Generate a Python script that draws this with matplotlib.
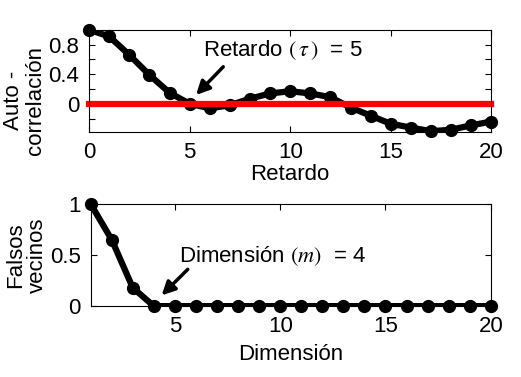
import numpy as np
import matplotlib.pyplot as plt

plt.rc('font', family='Liberation Sans', size=16)
plt.rc('mathtext', fontset='stix')
plt.rc('xtick', direction='in', top=True)
plt.rc('ytick', direction='in', right=True)

# autocorrelation vs lag
lag = np.arange(0, 21)
acf = [1.0, 0.91, 0.66, 0.39, 0.15, 0.0, -0.06, -0.02, 0.07, 0.14, 0.17,
       0.14, 0.09, -0.05, -0.16, -0.27, -0.32, -0.37, -0.35, -0.29, -0.24]
tau = 5

# false nearest neighbours vs embedding dimension
dim = np.arange(1, 21)
fnn = [1.0, 0.65, 0.18] + [0.0] * 17
m = 4

fig = plt.figure(figsize=(5.21, 3.77), dpi=100)
arrow = dict(arrowstyle='-|>', lw=2.5, color='k', mutation_scale=20,
             shrinkA=0, shrinkB=0)

# top panel
ax1 = fig.add_axes([0.171, 0.650, 0.772, 0.271])
ax1.plot(lag, acf, 'k-', lw=4.5)
ax1.plot(lag, acf, 'ko', ms=8.5, clip_on=False)
ax1.plot([lag[0], lag[-1]], [0, 0], 'r-', lw=4.5, clip_on=False)
ax1.set_xlim(0, 20)
ax1.set_ylim(-0.38, 1.0)
ax1.set_xticks([0, 5, 10, 15, 20])
ax1.set_yticks([-0.2, 0, 0.2, 0.4, 0.6, 0.8])
ax1.set_yticklabels(['', '0', '', '0.4', '', '0.8'])
ax1.set_xlabel('Retardo', labelpad=1)
ax1.text(-0.16, 0.31, 'Auto -\ncorrelación', transform=ax1.transAxes,
         rotation=90, ha='center', va='center', multialignment='center',
         linespacing=1.05)
ax1.text(5.67, 0.73, r'Retardo $(\,\tau\,)$  = 5', va='center', ha='left')
ax1.annotate('', xy=(5.32, 0.12), xytext=(6.67, 0.50), arrowprops=arrow)

# bottom panel
ax2 = fig.add_axes([0.174, 0.188, 0.768, 0.271])
ax2.plot(dim, fnn, 'k-', lw=4.5)
ax2.plot(dim, fnn, 'ko', ms=8.5, clip_on=False)
ax2.set_xlim(1, 20)
ax2.set_ylim(0, 1)
ax2.set_xticks([5, 10, 15, 20])
ax2.set_yticks([0, 0.5, 1])
ax2.set_yticklabels(['0', '0.5', '1'])
ax2.set_xlabel('Dimensión', labelpad=5)
ax2.text(-0.16, 0.5, 'Falsos\nvecinos', transform=ax2.transAxes,
         rotation=90, ha='center', va='center', multialignment='center',
         linespacing=1.05)
ax2.text(5.18, 0.49, r'Dimensión $(m)$  = 4', va='center', ha='left')
ax2.annotate('', xy=(4.37, 0.105), xytext=(5.61, 0.36), arrowprops=arrow)

for ax in (ax1, ax2):
    ax.tick_params(length=4, width=0.8, pad=7)

fig.savefig('out.png', dpi=100)
